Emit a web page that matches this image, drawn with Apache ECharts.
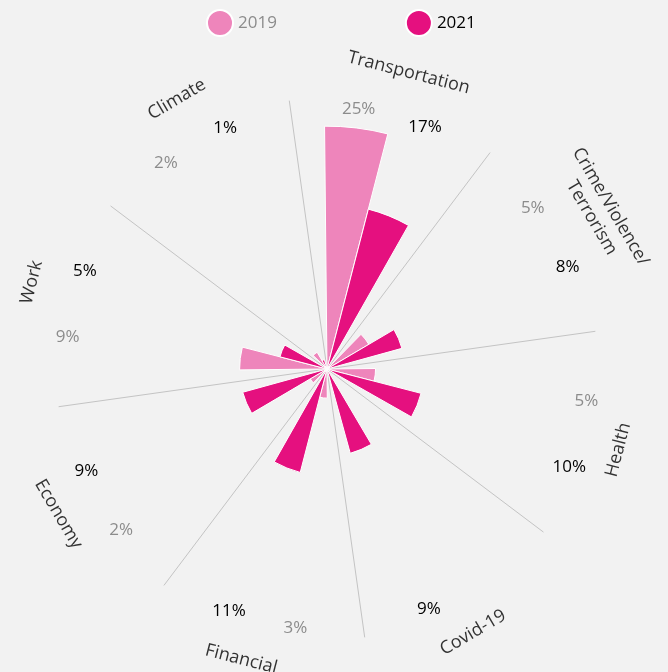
<!DOCTYPE html>
<html>
<head>
<meta charset="utf-8">
<script src="https://cdn.jsdelivr.net/npm/echarts@6/dist/echarts.min.js"></script>
<style>
  html, body { margin: 0; padding: 0; background: #f2f2f2; }
  #chart { width: 668px; height: 672px; }
</style>
</head>
<body>
<div id="chart"></div>
<script>
// categories clockwise from the top
var categories = ['Transportation', 'Crime/Violence/\nTerrorism', 'Health', 'Covid-19',
  'Financial', 'Economy', 'Work', 'Climate'];
var years = ['2019', '2021'];
var values2019 = [25, 5, 5, null, 3, 2, 9, 2];
var values2021 = [17, 8, 10, 9, 11, 9, 5, 1];

var colors = ['#ee85bb', '#e5107f'];
var labelColors = ['#8c8c8c', '#000000'];

var START = 98;        // angle of first split line (deg, math style)
var AXIS_MAX = 27.9;   // radius axis max
var LABEL_R = 26.9;    // radius (in value units) where the % labels sit
var FONT = 'Open Sans';

var chart = echarts.init(document.getElementById('chart'));

// invisible stacked pieces so that each % label sits at the same radius
function buildSeries(name, vals, idx) {
  var stack = 's' + idx;
  var spacer = vals.map(function (v) { return v == null ? null : +(LABEL_R - 0.5 - v).toFixed(2); });
  var holder = vals.map(function (v) { return v == null ? null : 1; });
  var common = {
    type: 'bar',
    coordinateSystem: 'polar',
    polarIndex: 0,
    stack: stack,
    barGap: '0%',
    barCategoryGap: '33%'
  };
  return [
    Object.assign({}, common, {
      name: name,
      data: vals,
      itemStyle: { color: colors[idx], borderColor: '#ffffff', borderWidth: 1 },
      emphasis: { disabled: true }
    }),
    Object.assign({}, common, {
      name: name + '_gap',
      data: spacer,
      silent: true,
      itemStyle: { color: 'rgba(0,0,0,0)' },
      emphasis: { disabled: true }
    }),
    Object.assign({}, common, {
      name: name + '_lbl',
      data: holder,
      silent: true,
      itemStyle: { color: 'rgba(0,0,0,0)' },
      emphasis: { disabled: true },
      label: {
        show: true,
        position: 'middle',
        rotate: 0,
        align: 'center',
        verticalAlign: 'middle',
        fontFamily: FONT,
        fontSize: 17,
        color: labelColors[idx],
        formatter: function (p) { return vals[p.dataIndex] + '%'; }
      }
    })
  ];
}

// category names written along the circle
var catData = categories.map(function (c, i) {
  var theta = (90 - START) + 22.5 + 45 * i;   // clockwise from 12 o'clock
  var t = ((theta % 360) + 360) % 360;
  var flip = t > 90 && t < 270;
  return {
    value: [1, i],
    label: {
      rotate: flip ? 180 - theta : -theta,
      verticalAlign: flip ? 'top' : 'bottom'
    }
  };
});

var series = []
  .concat(buildSeries(years[0], values2019, 0))
  .concat(buildSeries(years[1], values2021, 1));

series.push({
  type: 'scatter',
  coordinateSystem: 'polar',
  polarIndex: 1,
  symbolSize: 0,
  silent: true,
  data: catData,
  label: {
    show: true,
    position: 'inside',
    align: 'center',
    fontFamily: FONT,
    fontSize: 18,
    lineHeight: 22,
    color: '#000000',
    formatter: function (p) { return categories[p.dataIndex]; }
  }
});

var hiddenAxis = {
  axisLine: { show: false },
  axisTick: { show: false },
  axisLabel: { show: false },
  splitLine: { show: false }
};

var option = {
  backgroundColor: '#f2f2f2',
  animation: false,
  legend: {
    data: [
      { name: years[0], textStyle: { color: labelColors[0] } },
      { name: years[1], textStyle: { color: labelColors[1] } }
    ],
    icon: 'circle',
    left: 206,
    top: 9,
    padding: 0,
    itemWidth: 26,
    itemHeight: 26,
    itemGap: 128,
    textStyle: { fontFamily: FONT, fontSize: 17 }
  },
  polar: [
    { center: [327, 369], radius: 271 },
    { center: [325, 366], radius: 294 }
  ],
  angleAxis: [
    Object.assign({}, hiddenAxis, {
      polarIndex: 0,
      type: 'category',
      data: categories,
      startAngle: START,
      clockwise: true,
      splitLine: { show: true, lineStyle: { color: '#c4c4c4', width: 1 } }
    }),
    Object.assign({}, hiddenAxis, {
      polarIndex: 1,
      type: 'category',
      data: categories,
      startAngle: START - 1.5,
      clockwise: true
    })
  ],
  radiusAxis: [
    Object.assign({}, hiddenAxis, { polarIndex: 0, min: 0, max: AXIS_MAX }),
    Object.assign({}, hiddenAxis, { polarIndex: 1, min: 0, max: 1 })
  ],
  series: series
};

chart.setOption(option);
</script>
</body>
</html>
